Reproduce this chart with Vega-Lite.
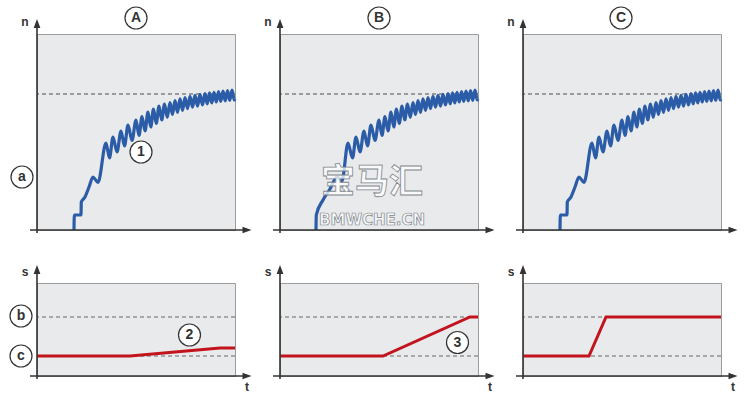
{
 "$schema": "https://vega.github.io/schema/vega-lite/v6.json",
 "background": "white",
 "padding": {"left": 7, "top": 4, "right": 5, "bottom": 2},
 "bounds": "flush",
 "columns": 3,
 "spacing": {"row": 53, "column": 45},
 "config": {"view": {"fill": "#e8eaeb", "stroke": "#9c9c9c", "strokeWidth": 1}},
 "datasets": {
  "curve1": [{"t":37,"n":0},{"t":37.3,"n":15},{"t":44,"n":15},{"t":44.3,"n":28},{"t":48,"n":33},{"t":52,"n":43},{"t":56,"n":53},{"t":61,"n":47.5},{"t":69,"n":87},{"t":72.5,"n":72},{"t":76,"n":93},{"t":80,"n":78},{"t":84,"n":99},{"t":87.5,"n":84},{"t":91,"n":105},{"t":95,"n":89.5},{"t":99,"n":110},{"t":102,"n":94.5},{"t":105,"n":113.5},{"t":108,"n":99},{"t":111,"n":118},{"t":113.75,"n":103},{"t":116.5,"n":121},{"t":119.25,"n":106.5},{"t":122,"n":124},{"t":124.75,"n":110},{"t":127.5,"n":126},{"t":130.25,"n":112.7},{"t":133,"n":127.5},{"t":135.5,"n":115.5},{"t":138,"n":129.3},{"t":140.5,"n":117.7},{"t":143,"n":131.2},{"t":145.5,"n":119.7},{"t":148,"n":132.4},{"t":150.5,"n":121.4},{"t":153,"n":133.6},{"t":155.5,"n":122.8},{"t":158,"n":134.6},{"t":160.5,"n":123.9},{"t":163,"n":135.6},{"t":165.5,"n":125},{"t":168,"n":136.4},{"t":170.25,"n":126.2},{"t":172.5,"n":137.2},{"t":174.75,"n":127.1},{"t":177,"n":137.6},{"t":179.25,"n":128},{"t":181.5,"n":138.5},{"t":183.75,"n":128.7},{"t":186,"n":139},{"t":188.25,"n":129.2},{"t":190.5,"n":139.5},{"t":192.75,"n":129.7},{"t":195,"n":140},{"t":197.25,"n":130},{"t":198,"n":131}],
  "curve2": [{"t":36,"n":0},{"t":36.3,"n":15},{"t":43,"n":30},{"t":50,"n":41},{"t":57,"n":53},{"t":62,"n":49},{"t":68,"n":87},{"t":72.5,"n":72},{"t":76,"n":93},{"t":80,"n":78},{"t":84,"n":99},{"t":87.5,"n":84},{"t":91,"n":105},{"t":95,"n":89.5},{"t":99,"n":110},{"t":102,"n":94.5},{"t":105,"n":113.5},{"t":108,"n":99},{"t":111,"n":118},{"t":113.75,"n":103},{"t":116.5,"n":121},{"t":119.25,"n":106.5},{"t":122,"n":124},{"t":124.75,"n":110},{"t":127.5,"n":126},{"t":130.25,"n":112.7},{"t":133,"n":127.5},{"t":135.5,"n":115.5},{"t":138,"n":129.3},{"t":140.5,"n":117.7},{"t":143,"n":131.2},{"t":145.5,"n":119.7},{"t":148,"n":132.4},{"t":150.5,"n":121.4},{"t":153,"n":133.6},{"t":155.5,"n":122.8},{"t":158,"n":134.6},{"t":160.5,"n":123.9},{"t":163,"n":135.6},{"t":165.5,"n":125},{"t":168,"n":136.4},{"t":170.25,"n":126.2},{"t":172.5,"n":137.2},{"t":174.75,"n":127.1},{"t":177,"n":137.6},{"t":179.25,"n":128},{"t":181.5,"n":138.5},{"t":183.75,"n":128.7},{"t":186,"n":139},{"t":188.25,"n":129.2},{"t":190.5,"n":139.5},{"t":192.75,"n":129.7},{"t":195,"n":140},{"t":197.25,"n":130},{"t":198,"n":131}],
  "topAxes": [{"t":-7,"t2":207,"n":0,"n2":0},{"t":0,"t2":0,"n":-3,"n2":203}],
  "botAxes": [{"t":-7,"t2":207,"s":0,"s2":0},{"t":0,"t2":0,"s":-3,"s2":103}]
 },
 "concat": [
  {
   "width": 198, "height": 196,
   "layer": [
    {"data": {"values": [{"n": 136}]}, "mark": {"type": "rule", "color": "#4d4d4d", "strokeWidth": 1, "strokeDash": [4, 3]}, "encoding": {"y": {"field": "n", "type": "quantitative", "scale": {"domain": [0, 196], "nice": false, "zero": false}, "axis": null}}},
    {"data": {"name": "curve1"}, "mark": {"type": "line", "interpolate": "monotone", "color": "#2b5ca8", "strokeWidth": 3.2}, "encoding": {"x": {"field": "t", "type": "quantitative", "scale": {"domain": [0, 198], "nice": false, "zero": false}, "axis": null}, "y": {"field": "n", "type": "quantitative", "scale": {"domain": [0, 196], "nice": false, "zero": false}, "axis": null}}},
    {"data": {"name": "topAxes"}, "mark": {"type": "rule", "color": "#333333", "strokeWidth": 1.6}, "encoding": {"x": {"field": "t", "type": "quantitative", "scale": {"domain": [0, 198], "nice": false, "zero": false}, "axis": null}, "x2": {"field": "t2"}, "y": {"field": "n", "type": "quantitative", "scale": {"domain": [0, 196], "nice": false, "zero": false}, "axis": null}, "y2": {"field": "n2"}}},
    {"data": {"values": [{"t": 0, "n": 206.5}]}, "mark": {"type": "point", "shape": "M0,-1L0.75,1L-0.75,1Z", "size": 81, "filled": true, "color": "#333333", "opacity": 1}, "encoding": {"x": {"field": "t", "type": "quantitative", "scale": {"domain": [0, 198], "nice": false, "zero": false}, "axis": null}, "y": {"field": "n", "type": "quantitative", "scale": {"domain": [0, 196], "nice": false, "zero": false}, "axis": null}}},
    {"data": {"values": [{"t": 210, "n": 0}]}, "mark": {"type": "point", "shape": "M1,0L-1,-0.7L-1,0.7Z", "size": 81, "filled": true, "color": "#333333", "opacity": 1}, "encoding": {"x": {"field": "t", "type": "quantitative", "scale": {"domain": [0, 198], "nice": false, "zero": false}, "axis": null}, "y": {"field": "n", "type": "quantitative", "scale": {"domain": [0, 196], "nice": false, "zero": false}, "axis": null}}},
    {"data": {"values": [{"t": -12, "n": 208, "label": "n"}]}, "mark": {"type": "text", "font": "Liberation Sans", "fontSize": 12, "fontWeight": "bold", "color": "#333333"}, "encoding": {"x": {"field": "t", "type": "quantitative", "scale": {"domain": [0, 198], "nice": false, "zero": false}, "axis": null}, "y": {"field": "n", "type": "quantitative", "scale": {"domain": [0, 196], "nice": false, "zero": false}, "axis": null}, "text": {"field": "label", "type": "nominal"}}},
    {"data": {"values": [{"t": 99, "n": 212, "label": "A"}, {"t": -15, "n": 53, "label": "a"}, {"t": 104, "n": 78, "label": "1"}]},
     "encoding": {"x": {"field": "t", "type": "quantitative", "scale": {"domain": [0, 198], "nice": false, "zero": false}, "axis": null}, "y": {"field": "n", "type": "quantitative", "scale": {"domain": [0, 196], "nice": false, "zero": false}, "axis": null}},
     "layer": [
      {"mark": {"type": "point", "shape": "circle", "size": 484, "filled": true, "fill": "white", "stroke": "#333333", "strokeWidth": 1.2, "opacity": 1}},
      {"mark": {"type": "text", "font": "Liberation Sans", "fontSize": 14, "fontWeight": "bold", "color": "#333333"}, "encoding": {"text": {"field": "label", "type": "nominal"}}}
     ]}
   ]
  },
  {
   "width": 198, "height": 196,
   "layer": [
    {"data": {"values": [{"n": 136}]}, "mark": {"type": "rule", "color": "#4d4d4d", "strokeWidth": 1, "strokeDash": [4, 3]}, "encoding": {"y": {"field": "n", "type": "quantitative", "scale": {"domain": [0, 196], "nice": false, "zero": false}, "axis": null}}},
    {"data": {"name": "curve2"}, "mark": {"type": "line", "interpolate": "monotone", "color": "#2b5ca8", "strokeWidth": 3.2}, "encoding": {"x": {"field": "t", "type": "quantitative", "scale": {"domain": [0, 198], "nice": false, "zero": false}, "axis": null}, "y": {"field": "n", "type": "quantitative", "scale": {"domain": [0, 196], "nice": false, "zero": false}, "axis": null}}},
    {"data": {"name": "topAxes"}, "mark": {"type": "rule", "color": "#333333", "strokeWidth": 1.6}, "encoding": {"x": {"field": "t", "type": "quantitative", "scale": {"domain": [0, 198], "nice": false, "zero": false}, "axis": null}, "x2": {"field": "t2"}, "y": {"field": "n", "type": "quantitative", "scale": {"domain": [0, 196], "nice": false, "zero": false}, "axis": null}, "y2": {"field": "n2"}}},
    {"data": {"values": [{"t": 0, "n": 206.5}]}, "mark": {"type": "point", "shape": "M0,-1L0.75,1L-0.75,1Z", "size": 81, "filled": true, "color": "#333333", "opacity": 1}, "encoding": {"x": {"field": "t", "type": "quantitative", "scale": {"domain": [0, 198], "nice": false, "zero": false}, "axis": null}, "y": {"field": "n", "type": "quantitative", "scale": {"domain": [0, 196], "nice": false, "zero": false}, "axis": null}}},
    {"data": {"values": [{"t": 210, "n": 0}]}, "mark": {"type": "point", "shape": "M1,0L-1,-0.7L-1,0.7Z", "size": 81, "filled": true, "color": "#333333", "opacity": 1}, "encoding": {"x": {"field": "t", "type": "quantitative", "scale": {"domain": [0, 198], "nice": false, "zero": false}, "axis": null}, "y": {"field": "n", "type": "quantitative", "scale": {"domain": [0, 196], "nice": false, "zero": false}, "axis": null}}},
    {"data": {"values": [{"t": -12, "n": 208, "label": "n"}]}, "mark": {"type": "text", "font": "Liberation Sans", "fontSize": 12, "fontWeight": "bold", "color": "#333333"}, "encoding": {"x": {"field": "t", "type": "quantitative", "scale": {"domain": [0, 198], "nice": false, "zero": false}, "axis": null}, "y": {"field": "n", "type": "quantitative", "scale": {"domain": [0, 196], "nice": false, "zero": false}, "axis": null}, "text": {"field": "label", "type": "nominal"}}},
    {"data": {"values": [{"t": 99, "n": 212, "label": "B"}]},
     "encoding": {"x": {"field": "t", "type": "quantitative", "scale": {"domain": [0, 198], "nice": false, "zero": false}, "axis": null}, "y": {"field": "n", "type": "quantitative", "scale": {"domain": [0, 196], "nice": false, "zero": false}, "axis": null}},
     "layer": [
      {"mark": {"type": "point", "shape": "circle", "size": 484, "filled": true, "fill": "white", "stroke": "#333333", "strokeWidth": 1.2, "opacity": 1}},
      {"mark": {"type": "text", "font": "Liberation Sans", "fontSize": 14, "fontWeight": "bold", "color": "#333333"}, "encoding": {"text": {"field": "label", "type": "nominal"}}}
     ]},
    {"data": {"values": [{"t": 92, "n": 47, "label": "宝马汇"}, {"t": 92, "n": 10, "label": "BMWCHE.CN"}]},
     "transform": [{"filter": "datum.label == '宝马汇'"}],
     "mark": {"type": "text", "font": "Noto Sans CJK SC", "fontSize": 34, "fontWeight": "bold", "fill": "white", "fillOpacity": 0.75, "stroke": "#7f878e", "strokeWidth": 0.8},
     "encoding": {"x": {"field": "t", "type": "quantitative", "scale": {"domain": [0, 198], "nice": false, "zero": false}, "axis": null}, "y": {"field": "n", "type": "quantitative", "scale": {"domain": [0, 196], "nice": false, "zero": false}, "axis": null}, "text": {"field": "label", "type": "nominal"}}},
    {"data": {"values": [{"t": 92, "n": 47, "label": "宝马汇"}, {"t": 92, "n": 10, "label": "BMWCHE.CN"}]},
     "transform": [{"filter": "datum.label == 'BMWCHE.CN'"}],
     "mark": {"type": "text", "font": "DejaVu Sans", "fontSize": 15, "fontWeight": "bold", "fill": "white", "fillOpacity": 0.75, "stroke": "#7f878e", "strokeWidth": 0.7},
     "encoding": {"x": {"field": "t", "type": "quantitative", "scale": {"domain": [0, 198], "nice": false, "zero": false}, "axis": null}, "y": {"field": "n", "type": "quantitative", "scale": {"domain": [0, 196], "nice": false, "zero": false}, "axis": null}, "text": {"field": "label", "type": "nominal"}}}
   ]
  },
  {
   "width": 198, "height": 196,
   "layer": [
    {"data": {"values": [{"n": 136}]}, "mark": {"type": "rule", "color": "#4d4d4d", "strokeWidth": 1, "strokeDash": [4, 3]}, "encoding": {"y": {"field": "n", "type": "quantitative", "scale": {"domain": [0, 196], "nice": false, "zero": false}, "axis": null}}},
    {"data": {"name": "curve1"}, "mark": {"type": "line", "interpolate": "monotone", "color": "#2b5ca8", "strokeWidth": 3.2}, "encoding": {"x": {"field": "t", "type": "quantitative", "scale": {"domain": [0, 198], "nice": false, "zero": false}, "axis": null}, "y": {"field": "n", "type": "quantitative", "scale": {"domain": [0, 196], "nice": false, "zero": false}, "axis": null}}},
    {"data": {"name": "topAxes"}, "mark": {"type": "rule", "color": "#333333", "strokeWidth": 1.6}, "encoding": {"x": {"field": "t", "type": "quantitative", "scale": {"domain": [0, 198], "nice": false, "zero": false}, "axis": null}, "x2": {"field": "t2"}, "y": {"field": "n", "type": "quantitative", "scale": {"domain": [0, 196], "nice": false, "zero": false}, "axis": null}, "y2": {"field": "n2"}}},
    {"data": {"values": [{"t": 0, "n": 206.5}]}, "mark": {"type": "point", "shape": "M0,-1L0.75,1L-0.75,1Z", "size": 81, "filled": true, "color": "#333333", "opacity": 1}, "encoding": {"x": {"field": "t", "type": "quantitative", "scale": {"domain": [0, 198], "nice": false, "zero": false}, "axis": null}, "y": {"field": "n", "type": "quantitative", "scale": {"domain": [0, 196], "nice": false, "zero": false}, "axis": null}}},
    {"data": {"values": [{"t": 210, "n": 0}]}, "mark": {"type": "point", "shape": "M1,0L-1,-0.7L-1,0.7Z", "size": 81, "filled": true, "color": "#333333", "opacity": 1}, "encoding": {"x": {"field": "t", "type": "quantitative", "scale": {"domain": [0, 198], "nice": false, "zero": false}, "axis": null}, "y": {"field": "n", "type": "quantitative", "scale": {"domain": [0, 196], "nice": false, "zero": false}, "axis": null}}},
    {"data": {"values": [{"t": -12, "n": 208, "label": "n"}]}, "mark": {"type": "text", "font": "Liberation Sans", "fontSize": 12, "fontWeight": "bold", "color": "#333333"}, "encoding": {"x": {"field": "t", "type": "quantitative", "scale": {"domain": [0, 198], "nice": false, "zero": false}, "axis": null}, "y": {"field": "n", "type": "quantitative", "scale": {"domain": [0, 196], "nice": false, "zero": false}, "axis": null}, "text": {"field": "label", "type": "nominal"}}},
    {"data": {"values": [{"t": 98, "n": 212, "label": "C"}]},
     "encoding": {"x": {"field": "t", "type": "quantitative", "scale": {"domain": [0, 198], "nice": false, "zero": false}, "axis": null}, "y": {"field": "n", "type": "quantitative", "scale": {"domain": [0, 196], "nice": false, "zero": false}, "axis": null}},
     "layer": [
      {"mark": {"type": "point", "shape": "circle", "size": 484, "filled": true, "fill": "white", "stroke": "#333333", "strokeWidth": 1.2, "opacity": 1}},
      {"mark": {"type": "text", "font": "Liberation Sans", "fontSize": 14, "fontWeight": "bold", "color": "#333333"}, "encoding": {"text": {"field": "label", "type": "nominal"}}}
     ]}
   ]
  },
  {
   "width": 198, "height": 93,
   "layer": [
    {"data": {"values": [{"s": 59}, {"s": 20}]}, "mark": {"type": "rule", "color": "#666666", "strokeWidth": 1, "strokeDash": [4, 3]}, "encoding": {"y": {"field": "s", "type": "quantitative", "scale": {"domain": [0, 93], "nice": false, "zero": false}, "axis": null}}},
    {"data": {"values": [{"t": 0, "s": 20}, {"t": 93, "s": 20}, {"t": 183, "s": 28}, {"t": 198, "s": 28}]}, "mark": {"type": "line", "color": "#c3141e", "strokeWidth": 3}, "encoding": {"x": {"field": "t", "type": "quantitative", "scale": {"domain": [0, 198], "nice": false, "zero": false}, "axis": null}, "y": {"field": "s", "type": "quantitative", "scale": {"domain": [0, 93], "nice": false, "zero": false}, "axis": null}}},
    {"data": {"name": "botAxes"}, "mark": {"type": "rule", "color": "#333333", "strokeWidth": 1.6}, "encoding": {"x": {"field": "t", "type": "quantitative", "scale": {"domain": [0, 198], "nice": false, "zero": false}, "axis": null}, "x2": {"field": "t2"}, "y": {"field": "s", "type": "quantitative", "scale": {"domain": [0, 93], "nice": false, "zero": false}, "axis": null}, "y2": {"field": "s2"}}},
    {"data": {"values": [{"t": 0, "s": 106.5}]}, "mark": {"type": "point", "shape": "M0,-1L0.75,1L-0.75,1Z", "size": 81, "filled": true, "color": "#333333", "opacity": 1}, "encoding": {"x": {"field": "t", "type": "quantitative", "scale": {"domain": [0, 198], "nice": false, "zero": false}, "axis": null}, "y": {"field": "s", "type": "quantitative", "scale": {"domain": [0, 93], "nice": false, "zero": false}, "axis": null}}},
    {"data": {"values": [{"t": 210, "s": 0}]}, "mark": {"type": "point", "shape": "M1,0L-1,-0.7L-1,0.7Z", "size": 81, "filled": true, "color": "#333333", "opacity": 1}, "encoding": {"x": {"field": "t", "type": "quantitative", "scale": {"domain": [0, 198], "nice": false, "zero": false}, "axis": null}, "y": {"field": "s", "type": "quantitative", "scale": {"domain": [0, 93], "nice": false, "zero": false}, "axis": null}}},
    {"data": {"values": [{"t": -12, "s": 104, "label": "s"}, {"t": 210, "s": -11, "label": "t"}]}, "mark": {"type": "text", "font": "Liberation Sans", "fontSize": 12, "fontWeight": "bold", "color": "#333333"}, "encoding": {"x": {"field": "t", "type": "quantitative", "scale": {"domain": [0, 198], "nice": false, "zero": false}, "axis": null}, "y": {"field": "s", "type": "quantitative", "scale": {"domain": [0, 93], "nice": false, "zero": false}, "axis": null}, "text": {"field": "label", "type": "nominal"}}},
    {"data": {"values": [{"t": -16, "s": 60, "label": "b"}, {"t": -16, "s": 20, "label": "c"}, {"t": 152.5, "s": 41, "label": "2"}]},
     "encoding": {"x": {"field": "t", "type": "quantitative", "scale": {"domain": [0, 198], "nice": false, "zero": false}, "axis": null}, "y": {"field": "s", "type": "quantitative", "scale": {"domain": [0, 93], "nice": false, "zero": false}, "axis": null}},
     "layer": [
      {"mark": {"type": "point", "shape": "circle", "size": 484, "filled": true, "fill": "white", "stroke": "#333333", "strokeWidth": 1.2, "opacity": 1}},
      {"mark": {"type": "text", "font": "Liberation Sans", "fontSize": 14, "fontWeight": "bold", "color": "#333333"}, "encoding": {"text": {"field": "label", "type": "nominal"}}}
     ]}
   ]
  },
  {
   "width": 198, "height": 93,
   "layer": [
    {"data": {"values": [{"s": 59}, {"s": 20}]}, "mark": {"type": "rule", "color": "#666666", "strokeWidth": 1, "strokeDash": [4, 3]}, "encoding": {"y": {"field": "s", "type": "quantitative", "scale": {"domain": [0, 93], "nice": false, "zero": false}, "axis": null}}},
    {"data": {"values": [{"t": 0, "s": 20}, {"t": 103, "s": 20}, {"t": 190, "s": 59}, {"t": 198, "s": 59}]}, "mark": {"type": "line", "color": "#c3141e", "strokeWidth": 3}, "encoding": {"x": {"field": "t", "type": "quantitative", "scale": {"domain": [0, 198], "nice": false, "zero": false}, "axis": null}, "y": {"field": "s", "type": "quantitative", "scale": {"domain": [0, 93], "nice": false, "zero": false}, "axis": null}}},
    {"data": {"name": "botAxes"}, "mark": {"type": "rule", "color": "#333333", "strokeWidth": 1.6}, "encoding": {"x": {"field": "t", "type": "quantitative", "scale": {"domain": [0, 198], "nice": false, "zero": false}, "axis": null}, "x2": {"field": "t2"}, "y": {"field": "s", "type": "quantitative", "scale": {"domain": [0, 93], "nice": false, "zero": false}, "axis": null}, "y2": {"field": "s2"}}},
    {"data": {"values": [{"t": 0, "s": 106.5}]}, "mark": {"type": "point", "shape": "M0,-1L0.75,1L-0.75,1Z", "size": 81, "filled": true, "color": "#333333", "opacity": 1}, "encoding": {"x": {"field": "t", "type": "quantitative", "scale": {"domain": [0, 198], "nice": false, "zero": false}, "axis": null}, "y": {"field": "s", "type": "quantitative", "scale": {"domain": [0, 93], "nice": false, "zero": false}, "axis": null}}},
    {"data": {"values": [{"t": 210, "s": 0}]}, "mark": {"type": "point", "shape": "M1,0L-1,-0.7L-1,0.7Z", "size": 81, "filled": true, "color": "#333333", "opacity": 1}, "encoding": {"x": {"field": "t", "type": "quantitative", "scale": {"domain": [0, 198], "nice": false, "zero": false}, "axis": null}, "y": {"field": "s", "type": "quantitative", "scale": {"domain": [0, 93], "nice": false, "zero": false}, "axis": null}}},
    {"data": {"values": [{"t": -12, "s": 104, "label": "s"}, {"t": 210, "s": -11, "label": "t"}]}, "mark": {"type": "text", "font": "Liberation Sans", "fontSize": 12, "fontWeight": "bold", "color": "#333333"}, "encoding": {"x": {"field": "t", "type": "quantitative", "scale": {"domain": [0, 198], "nice": false, "zero": false}, "axis": null}, "y": {"field": "s", "type": "quantitative", "scale": {"domain": [0, 93], "nice": false, "zero": false}, "axis": null}, "text": {"field": "label", "type": "nominal"}}},
    {"data": {"values": [{"t": 177.5, "s": 33.5, "label": "3"}]},
     "encoding": {"x": {"field": "t", "type": "quantitative", "scale": {"domain": [0, 198], "nice": false, "zero": false}, "axis": null}, "y": {"field": "s", "type": "quantitative", "scale": {"domain": [0, 93], "nice": false, "zero": false}, "axis": null}},
     "layer": [
      {"mark": {"type": "point", "shape": "circle", "size": 484, "filled": true, "fill": "white", "stroke": "#333333", "strokeWidth": 1.2, "opacity": 1}},
      {"mark": {"type": "text", "font": "Liberation Sans", "fontSize": 14, "fontWeight": "bold", "color": "#333333"}, "encoding": {"text": {"field": "label", "type": "nominal"}}}
     ]}
   ]
  },
  {
   "width": 198, "height": 93,
   "layer": [
    {"data": {"values": [{"s": 59}, {"s": 20}]}, "mark": {"type": "rule", "color": "#666666", "strokeWidth": 1, "strokeDash": [4, 3]}, "encoding": {"y": {"field": "s", "type": "quantitative", "scale": {"domain": [0, 93], "nice": false, "zero": false}, "axis": null}}},
    {"data": {"values": [{"t": 0, "s": 20}, {"t": 66, "s": 20}, {"t": 83, "s": 59}, {"t": 198, "s": 59}]}, "mark": {"type": "line", "color": "#c3141e", "strokeWidth": 3}, "encoding": {"x": {"field": "t", "type": "quantitative", "scale": {"domain": [0, 198], "nice": false, "zero": false}, "axis": null}, "y": {"field": "s", "type": "quantitative", "scale": {"domain": [0, 93], "nice": false, "zero": false}, "axis": null}}},
    {"data": {"name": "botAxes"}, "mark": {"type": "rule", "color": "#333333", "strokeWidth": 1.6}, "encoding": {"x": {"field": "t", "type": "quantitative", "scale": {"domain": [0, 198], "nice": false, "zero": false}, "axis": null}, "x2": {"field": "t2"}, "y": {"field": "s", "type": "quantitative", "scale": {"domain": [0, 93], "nice": false, "zero": false}, "axis": null}, "y2": {"field": "s2"}}},
    {"data": {"values": [{"t": 0, "s": 106.5}]}, "mark": {"type": "point", "shape": "M0,-1L0.75,1L-0.75,1Z", "size": 81, "filled": true, "color": "#333333", "opacity": 1}, "encoding": {"x": {"field": "t", "type": "quantitative", "scale": {"domain": [0, 198], "nice": false, "zero": false}, "axis": null}, "y": {"field": "s", "type": "quantitative", "scale": {"domain": [0, 93], "nice": false, "zero": false}, "axis": null}}},
    {"data": {"values": [{"t": 210, "s": 0}]}, "mark": {"type": "point", "shape": "M1,0L-1,-0.7L-1,0.7Z", "size": 81, "filled": true, "color": "#333333", "opacity": 1}, "encoding": {"x": {"field": "t", "type": "quantitative", "scale": {"domain": [0, 198], "nice": false, "zero": false}, "axis": null}, "y": {"field": "s", "type": "quantitative", "scale": {"domain": [0, 93], "nice": false, "zero": false}, "axis": null}}},
    {"data": {"values": [{"t": -12, "s": 104, "label": "s"}, {"t": 210, "s": -11, "label": "t"}]}, "mark": {"type": "text", "font": "Liberation Sans", "fontSize": 12, "fontWeight": "bold", "color": "#333333"}, "encoding": {"x": {"field": "t", "type": "quantitative", "scale": {"domain": [0, 198], "nice": false, "zero": false}, "axis": null}, "y": {"field": "s", "type": "quantitative", "scale": {"domain": [0, 93], "nice": false, "zero": false}, "axis": null}, "text": {"field": "label", "type": "nominal"}}}
   ]
  }
 ]
}
